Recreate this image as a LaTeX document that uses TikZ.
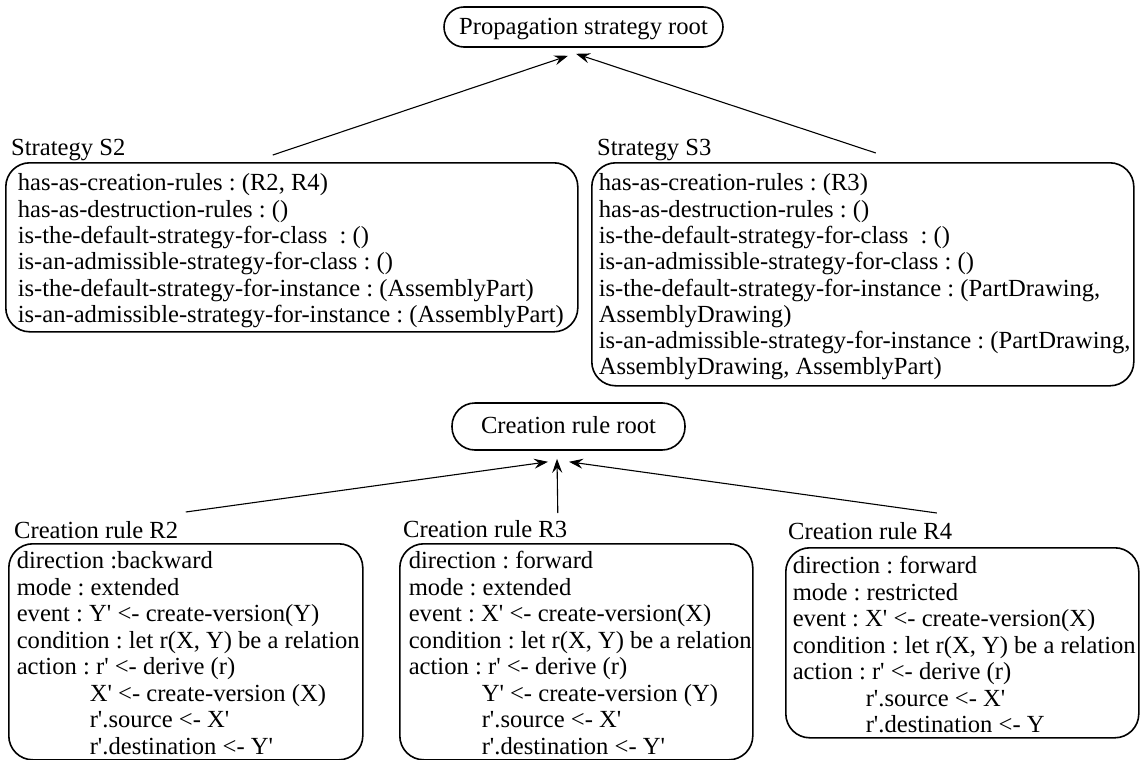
\documentclass[tikz,border=0pt]{standalone}
\usepackage{fontspec}
\setmainfont{Liberation Serif}
\usetikzlibrary{arrows.meta,calc}
\newcommand\myq{\textquotesingle}
\newcommand\ind{\hspace*{73pt}}
\newcommand\boxsetup[1]{\leftskip=#1\relax\spaceskip=0pt\relax\xspaceskip=0pt\relax}
\frenchspacing
\begin{document}
\begin{tikzpicture}[x=1pt,y=-1pt,
  every node/.style={font=\fontsize{24.6}{26.3}\selectfont\frenchspacing},
  rootbox/.style={draw, line width=1.6pt, inner sep=0pt},
  infobox/.style={draw, line width=1.6pt, rounded corners=24pt, inner sep=0pt, anchor=north west, align=left},
  rulebox/.style={infobox, font=\fontsize{24.6}{26.5}\selectfont\frenchspacing},
  lbl/.style={anchor=base west, inner sep=0pt},
  arr/.style={line width=1.1pt, -{Stealth[length=14pt,width=10pt,inset=5pt]}}
]
\useasboundingbox (0,0) rectangle (1141,760);

% roots
\node[rootbox, rounded corners=20pt, minimum width=279pt, minimum height=40pt, text height=18pt, text depth=2pt] (proot) at (583.5,27) {Propagation strategy root\hspace{9pt}};
\node[rootbox, rounded corners=23pt, minimum width=233pt, minimum height=47pt, text height=16pt, text depth=2pt] (croot) at (568.5,426.5) {Creation rule root\hspace{6pt}};

% labels
\node[lbl] (s2lab) at (11,155) {Strategy S2};
\node[lbl] (s3lab) at (597,155) {Strategy S3};
\node[lbl] (r2lab) at (14,538) {Creation rule R2};
\node[lbl] (r3lab) at (403,537) {Creation rule R3};
\node[lbl] (r4lab) at (788,539) {Creation rule R4};

% strategy boxes
\node[infobox, text width=572pt, minimum height=169pt] (s2) at (5,162) {\boxsetup{12pt}\rule{0pt}{28pt}has-as-creation-rules : (R2, R4)\\
has-as-destruction-rules : ()\\
is-the-default-strategy-for-class~ : ()\\
is-an-admissible-strategy-for-class : ()\\
is-the-default-strategy-for-instance : (AssemblyPart)\\
\mbox{is-an-admissible-strategy-for-instance : (AssemblyPart)}\rule[-9.5pt]{0pt}{0pt}\par};

\node[infobox, text width=542pt, minimum height=223pt] (s3) at (591,162) {\boxsetup{7pt}\rule{0pt}{28pt}has-as-creation-rules : (R3)\\
has-as-destruction-rules : ()\\
is-the-default-strategy-for-class~ : ()\\
is-an-admissible-strategy-for-class : ()\\
\mbox{is-the-default-strategy-for-instance : (PartDrawing,}\\
AssemblyDrawing)\\
\mbox{is-an-admissible-strategy-for-instance : (PartDrawing,}\\
AssemblyDrawing, AssemblyPart)\rule[-10.9pt]{0pt}{0pt}\par};

% creation rule boxes
\node[rulebox, text width=354pt, minimum height=216pt] (r2) at (8,543) {\boxsetup{8pt}\rule{0pt}{25pt}direction :backward\\
mode : extended\\
event : Y\myq{} <- create-version(Y)\\
\mbox{condition : let r(X, Y) be a relation}\\
action : r\myq{} <- derive (r)\\
\ind X\myq{} <- create-version (X)\\
\ind r\myq.source <- X\myq\\
\ind r\myq.destination <- Y\myq\rule[-5.5pt]{0pt}{0pt}\par};

\node[rulebox, text width=353pt, minimum height=216pt] (r3) at (399,543) {\boxsetup{9pt}\rule{0pt}{25pt}direction : forward\\
mode : extended\\
event : X\myq{} <- create-version(X)\\
\mbox{condition : let r(X, Y) be a relation}\\
action : r\myq{} <- derive (r)\\
\ind Y\myq{} <- create-version (Y)\\
\ind r\myq.source <- X\myq\\
\ind r\myq.destination <- Y\myq\rule[-5.5pt]{0pt}{0pt}\par};

\node[rulebox, text width=353pt, minimum height=190pt] (r4) at (785,547) {\boxsetup{7pt}\rule{0pt}{26pt}direction : forward\\
mode : restricted\\
event : X\myq{} <- create-version(X)\\
\mbox{condition : let r(X, Y) be a relation}\\
action : r\myq{} <- derive (r)\\
\ind r\myq.source <- X\myq\\
\ind r\myq.destination <- Y\rule[-5pt]{0pt}{0pt}\par};

% connectors
\draw[arr] ($(s2.north)+(-19,-7)$) -- ($(proot.south)+(-15.5,8)$);
\draw[arr] ($(s3.north)+(13,-9)$) -- ($(proot.south)+(-7.5,6)$);
\draw[arr] ($(r2.north)+(0,-31)$) -- ($(croot.south)+(-20.5,11)$);
\draw[arr] ($(r3.north)+(-18.5,-30)$) -- ($(croot.south)+(-11.5,8)$);
\draw[arr] ($(r4.north)+(-25.5,-34)$) -- ($(croot.south)+(0.5,11)$);
\end{tikzpicture}
\end{document}
